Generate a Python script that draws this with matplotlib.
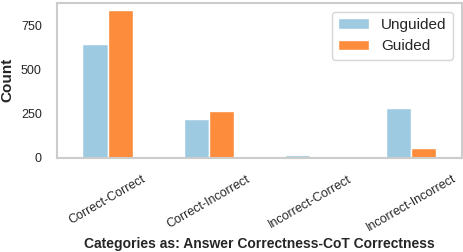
import matplotlib
matplotlib.use("Agg")
import matplotlib.pyplot as plt
import seaborn as sns
import pandas as pd

sns.set_style("white")
plt.rcParams['font.family'] = ['Liberation Sans', 'DejaVu Sans']

categories = ["Correct-Correct", "Correct-Incorrect", "Incorrect-Correct", "Incorrect-Incorrect"]
unguided = [642, 216, 14, 280]
guided = [836, 262, 0, 56]

df = pd.DataFrame({"Unguided": unguided, "Guided": guided}, index=categories)

fig, ax = plt.subplots(figsize=(4.64, 2.52), dpi=100)
df.plot(kind="bar", ax=ax, color=["#9ecae1", "#fd8d3c"], width=0.5,
        edgecolor="white", linewidth=1)

ax.set_ylim(0, 880)
ax.set_yticks([0, 250, 500, 750])
ax.set_xticklabels(categories, rotation=30, fontsize=9)
ax.tick_params(axis='y', labelsize=9, length=0, pad=11)
ax.tick_params(axis='x', length=0, pad=11)
ax.set_ylabel("Count", fontsize=11, fontweight="bold")
ax.set_xlabel("Categories as: Answer Correctness-CoT Correctness", fontsize=10, fontweight="bold", labelpad=2)
for s in ax.spines.values():
    s.set_color("#cccccc")
    s.set_linewidth(1.5)
ax.legend(fontsize=11, loc="upper right", handlelength=2.0, borderaxespad=0.6)

fig.subplots_adjust(left=0.123, right=0.995, top=0.99, bottom=0.375)
ax.yaxis.set_label_coords(-0.105, 0.5)
plt.savefig("out.png", dpi=100)
